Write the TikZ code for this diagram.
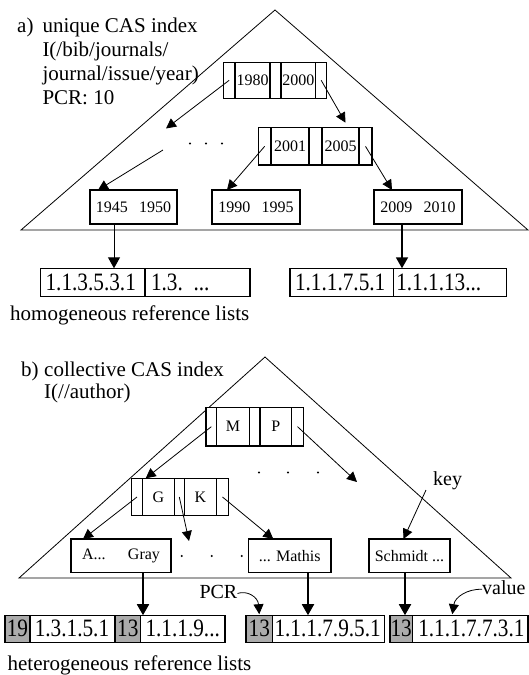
\documentclass[tikz,border=0pt]{standalone}
\usepackage{fontspec}
\setmainfont{Liberation Serif}
\usepackage{graphicx}
\usetikzlibrary{arrows.meta}
\newcommand\myMain{\fontsize{21}{24}\selectfont}
\newcommand\myLbl{\fontsize{20}{22}\selectfont}
\newcommand\myNode{\fontsize{16}{18}\selectfont}
\newcommand\myLst{\fontsize{25}{28}\selectfont}
\newcommand\myRef[1]{\scalebox{0.85}[1]{#1}}
\begin{document}
\begin{tikzpicture}[x=1pt,y=-1pt,
 tri/.style={draw, line width=0.8pt},
 box/.style={draw, fill=white, line width=1.4pt, inner sep=0pt, outer sep=0pt, anchor=north west, font=\myNode},
 lcell/.style={box, align=left, inner xsep=5pt, font=\myLst},
 gcell/.style={box, fill=black!33, font=\myLst},
 txt/.style={font=\myMain, inner sep=0pt, anchor=base west},
 lbl/.style={txt, font=\myLbl},
 thinarr/.style={-{Triangle[length=10pt,width=10pt]}, line width=0.8pt},
 thickarr/.style={-{Triangle[length=11pt,width=12pt]}, line width=1.8pt}
]
\useasboundingbox (0,0) rectangle (529,675);

% triangles
\draw[tri] (21,230) -- (275,10) -- (528,230) -- cycle;
\draw[tri] (19,578) -- (265,357) -- (511,578) -- cycle;

% ---------- a) ----------
\node[box, minimum width=11.7pt, minimum height=36pt] (ra1) at (223.3,62.3) {};
\node[box, minimum width=35pt,   minimum height=36pt] (ra2) at (235,62.3) {1980};
\node[box, minimum width=11pt,   minimum height=36pt] (ra3) at (270,62.3) {};
\node[box, minimum width=34.7pt, minimum height=36pt] (ra4) at (281,62.3) {2000};
\node[box, minimum width=11pt,   minimum height=36pt] (ra5) at (315.7,62.3) {};

\node[box, minimum width=12.7pt, minimum height=37.3pt] (rb1) at (258.3,127.7) {};
\node[box, minimum width=38pt,   minimum height=37.3pt] (rb2) at (271,127.7) {2001};
\node[box, minimum width=13pt,   minimum height=37.3pt] (rb3) at (309,127.7) {};
\node[box, minimum width=37pt,   minimum height=37.3pt] (rb4) at (322,127.7) {2005};
\node[box, minimum width=13pt,   minimum height=37.3pt] (rb5) at (359,127.7) {};

\node[box, minimum width=87pt, minimum height=34pt] (la1) at (90,190) {1945\hspace{0.7em}1950};
\node[box, minimum width=88pt, minimum height=34pt] (la2) at (212,190) {1990\hspace{0.7em}1995};
\node[box, minimum width=88pt, minimum height=34pt] (la3) at (374,190) {2009\hspace{0.7em}2010};

\node[lcell, text width=94.4pt, minimum height=28pt] (aa1) at (40.6,268.3) {\myRef{1.1.3.5.3.1}};
\node[lcell, text width=93pt, minimum height=28pt, inner xsep=6pt] (aa2) at (145,268.3) {\myRef{1.3. ...}};
\node[lcell, text width=93.3pt, minimum height=28pt] (ab1) at (290,268.3) {\myRef{1.1.1.7.5.1}};
\node[lcell, text width=107.4pt, minimum height=28pt, inner xsep=3pt] (ab2) at (393.3,268.3) {\myRef{1.1.1.13...}};

\node[txt] (ta) at (17,32) {a)};
\node[txt] (tu) at (42.3,32) {unique CAS index};
\node[txt] (tp) at (42.3,56.3) {I(/bib/journals/};
\node[txt] (tj) at (42.3,80.5) {journal/issue/year)};
\node[txt] (tr) at (42.3,104.6) {PCR: 10};
\node[txt] (hom) at (10,320) {homogeneous reference lists};

\coordinate (fa1) at (166,128.5);
\coordinate (fa2) at (163,150);
\draw[thinarr] (ra1.center) -- (fa1);
\draw[thinarr] (ra5.center) -- ([xshift=30pt,yshift=5pt]rb3.north);
\draw[thinarr] (fa2) -- ([xshift=8pt]la1.north west);
\draw[thinarr] (rb1.center) -- ([xshift=15pt]la2.north west);
\draw[thinarr] (rb5.center) -- ([xshift=18pt]la3.north west);
\coordinate (va1) at ([xshift=-19.5pt]la1.south);
\draw[thickarr, line width=1pt] (va1) -- (va1 |- aa1.north);
\coordinate (va2) at ([xshift=-16pt]la3.south);
\draw[thickarr] (va2) -- (va2 |- ab1.north);

\foreach \x in {190,206,222} \fill (\x,143.5) circle (1.1pt);

% ---------- b) ----------
\node[box, minimum width=10.7pt, minimum height=38.7pt] (rm1) at (206,407.3) {};
\node[box, minimum width=32.6pt, minimum height=38.7pt] (rm2) at (216.7,407.3) {M};
\node[box, minimum width=10.7pt, minimum height=38.7pt] (rm3) at (249.3,407.3) {};
\node[box, minimum width=31.7pt, minimum height=38.7pt] (rm4) at (260,407.3) {P};
\node[box, minimum width=11.6pt, minimum height=38.7pt] (rm5) at (291.7,407.3) {};

\node[box, minimum width=10.6pt, minimum height=37.4pt] (gk1) at (131.7,478.3) {};
\node[box, minimum width=32pt,   minimum height=37.4pt] (gk2) at (142.3,478.3) {G};
\node[box, minimum width=10pt,   minimum height=37.4pt] (gk3) at (174.3,478.3) {};
\node[box, minimum width=32.4pt, minimum height=37.4pt] (gk4) at (184.3,478.3) {K};
\node[box, minimum width=11.6pt, minimum height=37.4pt] (gk5) at (216.7,478.3) {};

\node[box, minimum width=100pt,  minimum height=33.3pt] (lb1) at (71,539) {A...\hspace{1.4em}Gray};
\node[box, minimum width=82.7pt, minimum height=33.3pt] (lb2) at (248.3,539) {... Mathis};
\node[box, minimum width=81pt,   minimum height=33.3pt] (lb3) at (369,539) {Schmidt ...};

\node[gcell, minimum width=24.8pt, minimum height=27.1pt] (ha1) at (5,615.2) {\myRef{19}};
\node[lcell, text width=75.2pt, minimum height=27.1pt] (ha2) at (29.8,615.2) {\myRef{1.3.1.5.1}};
\node[gcell, minimum width=25.5pt, minimum height=27.1pt] (ha3) at (115,615.2) {\myRef{13}};
\node[lcell, text width=74.5pt, minimum height=27.1pt] (ha4) at (140.5,615.2) {\myRef{1.1.1.9...}};
\node[gcell, minimum width=26.5pt, minimum height=27.1pt] (hb1) at (246,615.2) {\myRef{13}};
\node[lcell, text width=107.7pt, minimum height=27.1pt, inner xsep=2pt] (hb2) at (272.5,615.2) {\myRef{1.1.1.7.9.5.1}};
\node[gcell, minimum width=22.3pt, minimum height=27.1pt] (hc1) at (390,615.2) {\myRef{13}};
\node[lcell, text width=103.7pt, minimum height=27.1pt, inner xsep=6pt] (hc2) at (412.3,615.2) {\myRef{1.1.1.7.7.3.1}};

\node[txt] (tb) at (21,376) {b)};
\node[txt] (tc) at (44,376) {collective CAS index};
\node[txt] (tau) at (44,398.5) {I(//author)};
\node[txt] (het) at (7.4,670.5) {heterogeneous reference lists};
\node[lbl] (key) at (433,485.5) {key};
\node[lbl] (pcr) at (199.3,598) {PCR};
\node[lbl] (val) at (482,594) {value};

\coordinate (fb1) at (357,482);
\coordinate (fb2) at (189,541);
\draw[thinarr] (rm1.center) -- ([xshift=14pt]gk1.north west);
\draw[thinarr] (rm5.center) -- (fb1);
\draw[thinarr] (gk1.center) -- ([xshift=12pt]lb1.north west);
\draw[thinarr] (gk3.center) -- (fb2);
\draw[thinarr] (gk5.center) -- ([xshift=25pt]lb2.north west);
\draw[thinarr] ([xshift=-7pt]key.south west) -- ([xshift=34.5pt]lb3.north west);

\coordinate (vb1) at ([xshift=22pt]lb1.south);
\coordinate (vb2) at ([xshift=18.35pt]lb2.south);
\coordinate (vb3) at ([xshift=-4.5pt]lb3.south);
\draw[thickarr] (vb1) -- (vb1 |- ha4.north);
\draw[thickarr] (vb2) -- (vb2 |- hb2.north);
\draw[thickarr] (vb3) -- (vb3 |- hc1.north);

\draw[thinarr] ([yshift=-2pt]pcr.east) .. controls (247,590) and (258,597) .. ([yshift=1pt]hb1.north);
\draw[thinarr] ([yshift=-2pt]val.west) .. controls (467,589) and (455,597) .. ([xshift=40pt,yshift=1pt]hc2.north west);

\foreach \x in {259,288,318} \fill (\x,472.5) circle (1.1pt);
\foreach \x in {181.7,211.7,241.7} \fill (\x,556) circle (1.1pt);
\end{tikzpicture}
\end{document}
